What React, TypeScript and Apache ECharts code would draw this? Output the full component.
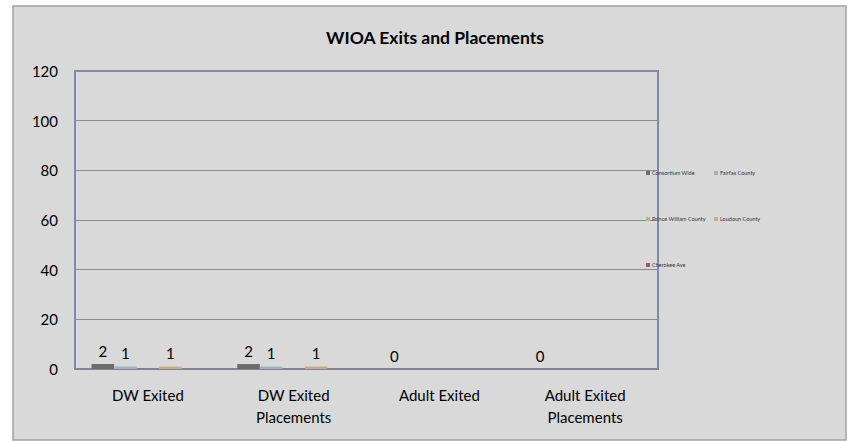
import React, { useEffect, useRef } from "react";
import * as echarts from "echarts";

const categories = ["DW Exited", "DW Exited\nPlacements", "Adult Exited", "Adult Exited\nPlacements"];
const seriesNames = ["Consortium Wide", "Fairfax County", "Prince William County", "Loudoun County", "Cherokee Ave"];
const consortiumWide = [2, 2, 0, 0];
const fairfaxCounty = [1, 1, null, null];
const princeWilliamCounty = [null, null, null, null];
const loudounCounty = [1, 1, null, null];
const cherokeeAve = [null, null, null, null];
const yTicks = [0, 20, 40, 60, 80, 100, 120];

const colors = ["#6c6c6e", "#9cb3c6", "#a9c07e", "#c6ad8a", "#a05468"];
const FONT = "Lato, 'Open Sans', sans-serif";

export default function App() {
  const ref = useRef<HTMLDivElement>(null);
  useEffect(() => {
    if (!ref.current) return;
    const chart = echarts.init(ref.current, undefined, { renderer: "svg" });
    const allData = [consortiumWide, fairfaxCounty, princeWilliamCounty, loudounCounty, cherokeeAve];
    const legendPos = [
      { left: 646, top: 170 },
      { left: 714, top: 170 },
      { left: 646, top: 216 },
      { left: 714, top: 216 },
      { left: 646, top: 262 },
    ];
    chart.setOption({
      animation: false,
      backgroundColor: "#ffffff",
      textStyle: { fontFamily: FONT },
      graphic: [
        {
          type: "rect",
          z: -10,
          shape: { x: 13, y: 6, width: 833, height: 434 },
          style: { fill: "#d9d9d9", stroke: "#a3a3a3", lineWidth: 1.5 },
        },
      ],
      title: {
        text: "WIOA Exits and Placements",
        left: 430,
        textAlign: "center",
        top: 23,
        textStyle: { fontFamily: FONT, fontWeight: "bold", fontSize: 17.5, color: "#000" },
      },
      legend: seriesNames.map((n, i) => ({
        data: [n],
        left: legendPos[i].left,
        top: legendPos[i].top,
        itemWidth: 4,
        itemHeight: 4,
        itemGap: 2,
        icon: "rect",
        padding: 0,
        textStyle: { fontSize: 5.5, color: "#333", fontFamily: FONT, padding: [0, 0, 0, -3] },
      })),
      grid: {
        left: 75,
        top: 71,
        right: 190,
        bottom: 72,
        show: true,
        borderColor: "#8585b5",
        borderWidth: 2,
        backgroundColor: "transparent",
      },
      xAxis: {
        type: "category",
        data: categories,
        axisLine: { show: true, lineStyle: { color: "#858095", width: 2 } },
        axisTick: { show: false },
        axisLabel: { fontSize: 15, color: "#000", margin: 15, lineHeight: 22, fontFamily: FONT },
      },
      yAxis: {
        type: "value",
        min: 0,
        max: 120,
        interval: 20,
        axisLine: { show: false },
        axisTick: { show: false },
        splitLine: { lineStyle: { color: "#8c8c8c", width: 1 } },
        axisLabel: {
          fontSize: 15,
          color: "#000",
          margin: 17,
          fontFamily: FONT,
          formatter: (v: number) => (yTicks.includes(v) ? String(v) : ""),
        },
      },
      series: seriesNames.map((n, i) => ({
        name: n,
        type: "bar",
        data: allData[i],
        barGap: "0%",
        barCategoryGap: "22.7%",
        itemStyle: { color: colors[i] },
        label: {
          show: true,
          position: "top",
          distance: 6,
          fontSize: 15,
          color: "#000",
          fontFamily: FONT,
        },
      })),
    });
    return () => chart.dispose();
  }, []);
  return (
    <div
      ref={ref}
      style={{ position: "absolute", left: 0, top: 0, width: 848, height: 441 }}
    />
  );
}
